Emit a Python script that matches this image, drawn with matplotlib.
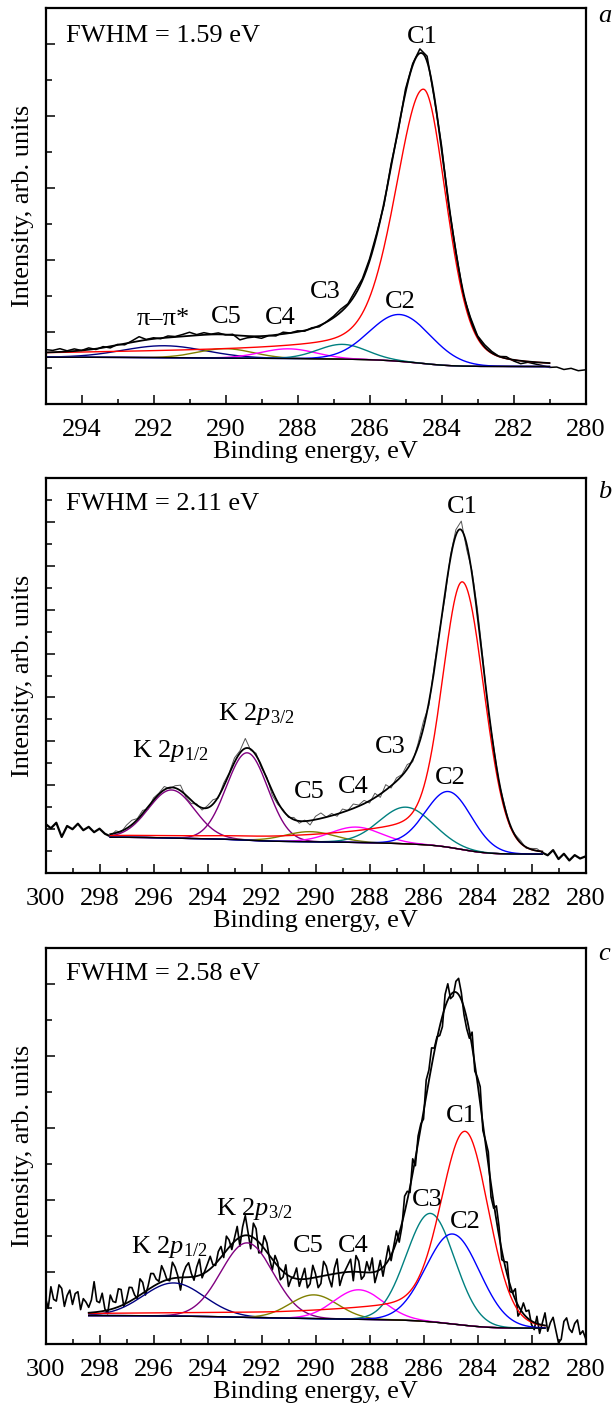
import numpy as np
import matplotlib
matplotlib.use('Agg')
import matplotlib.pyplot as plt
from matplotlib.ticker import MultipleLocator

plt.rcParams['font.family'] = ['Liberation Serif', 'DejaVu Serif']
plt.rcParams['mathtext.fontset'] = 'custom'
plt.rcParams['mathtext.rm'] = 'Liberation Serif'
plt.rcParams['mathtext.it'] = 'Liberation Serif:italic'
plt.rcParams['font.size'] = 19

# ── Panel a ───────────────────────────────────────────────────────
a_xlim = (295, 280)
a_ylim = (0, 11)
a_fit = (295.0, 281.0)              # fitted range, high BE -> low BE
a_base = (1.30, 1.04)               # Shirley levels at high / low BE end
a_names = ['π–π*', 'C5', 'C4', 'C3', 'C2']
a_centers = [291.7, 290.0, 288.25, 286.75, 285.15]
a_heights = [0.33, 0.26, 0.27, 0.41, 1.30]
a_fwhm = [2.7, 1.8, 1.8, 1.6, 2.0]
a_colors = ['#000080', '#808000', '#ff00ff', '#008080', '#0000ff']
# C1: centre, height, fwhm low-BE side, fwhm high-BE side, lorentz share, tail height, tail width
a_c1 = [284.5, 7.32, 1.5, 1.85, 0.3, 0.3, 8.0]
a_step = 0.2
a_resid = [0.08, 0.05, 0.09, 0.02, 0.06, 0.00, 0.05, -0.02, 0.03, -0.04,
           0.02, -0.03, 0.04, 0.12, 0.01, 0.03, -0.02, 0.04, 0.01, 0.05,
           0.10, 0.02, 0.06, 0.01, 0.04, -0.01, 0.02, -0.12, -0.05, -0.02,
           -0.06, 0.00, -0.03, 0.05, 0.00, 0.03, -0.02, 0.02, -0.03, 0.01,
           0.04, 0.08, 0.03, 0.10, 0.05, 0.06, 0.06, -0.05, 0.08, -0.06,
           0.10, 0.05, 0.12, 0.15, -0.05, 0.08, -0.06, 0.04, -0.08, 0.05,
           0.02, 0.06, 0.04, 0.00, 0.05, -0.03, -0.08, -0.02, -0.05, -0.08,
           -0.12, -0.10, -0.16, -0.12, -0.18, -0.15]
a_labels = [('FWHM = 1.59 eV', 294.43, 10.06, 'left'),
            ('C1', 284.53, 10.02, 'center'),
            ('C3', 287.22, 2.94, 'center'),
            ('C2', 285.15, 2.66, 'center'),
            ('π–π*', 291.74, 2.19, 'center'),
            ('C5', 289.99, 2.24, 'center'),
            ('C4', 288.47, 2.23, 'center')]

# ── Panel b ───────────────────────────────────────────────────────
b_xlim = (300, 280)
b_ylim = (0, 18)
b_fit = (297.6, 281.6)
b_base = (1.63, 0.86)
b_names = ['K2p1/2', 'K2p3/2', 'C5', 'C4', 'C3', 'C2']
b_centers = [295.33, 292.53, 290.2, 288.5, 286.65, 285.06]
b_heights = [2.19, 3.98, 0.46, 0.70, 1.67, 2.54]
b_fwhm = [2.0, 1.8, 2.2, 2.2, 2.3, 2.0]
b_colors = ['#800080', '#800080', '#808000', '#ff00ff', '#008080', '#0000ff']
b_c1 = [284.56, 11.1, 1.9, 1.7, 0.1, 1.1, 3.5]
b_step = 0.2
b_resid = [0.55, 0.35, 0.60, -0.05, 0.45, 0.30, 0.55, 0.25, 0.40, 0.15,
           0.30, 0.05, -0.10, 0.10, -0.05, 0.15, 0.20, 0.05, 0.15, -0.10,
           0.10, 0.05, 0.15, -0.05, 0.10, 0.25, -0.10, -0.15, 0.05, -0.10,
           0.10, 0.20, -0.05, 0.15, 0.05, 0.20, 0.10, 0.45, -0.05, 0.10,
           -0.10, 0.05, -0.20, -0.10, 0.05, -0.05, 0.10, -0.10, 0.05, -0.20,
           0.15, 0.25, 0.00, 0.10, -0.10, 0.15, 0.00, 0.20, 0.05, 0.15,
           -0.10, 0.20, -0.15, 0.25, -0.10, 0.15, 0.05, 0.20, -0.10, 0.15,
           0.30, -0.15, 0.20, 0.10, -0.20, 0.15, 0.25, 0.40, -0.25, 0.15,
           0.30, 0.20, -0.15, 0.10, -0.05, 0.10, -0.10, 0.05, 0.10, -0.05,
           0.05, 0.10, -0.05, -0.15, 0.10, -0.30, -0.05, -0.35, -0.10, -0.25,
           -0.15]
b_labels = [('FWHM = 2.11 eV', 299.24, 16.55, 'left'),
            ('C1', 284.57, 16.39, 'center'),
            (r'K 2$\mathit{p}_{1/2}$', 296.78, 5.27, 'left'),
            (r'K 2$\mathit{p}_{3/2}$', 293.62, 6.97, 'left'),
            ('C5', 290.23, 3.43, 'center'),
            ('C4', 288.59, 3.66, 'center'),
            ('C3', 287.22, 5.46, 'center'),
            ('C2', 285.01, 4.06, 'center')]

# ── Panel c ───────────────────────────────────────────────────────
c_xlim = (300, 280)
c_ylim = (0, 11)
c_fit = (298.4, 281.5)
c_base = (0.79, 0.44)
c_names = ['K2p1/2', 'K2p3/2', 'C5', 'C4', 'C3', 'C2']
c_centers = [295.25, 292.53, 290.06, 288.4, 285.74, 284.91]
c_heights = [0.92, 2.07, 0.66, 0.82, 3.01, 2.50]
c_fwhm = [2.65, 2.28, 2.1, 2.16, 2.1, 2.35]
c_colors = ['#000080', '#800080', '#808000', '#ff00ff', '#008080', '#0000ff']
c_c1 = [284.46, 4.89, 2.05, 2.05, 0.1, 0.5, 5.0]
c_step = 0.1
c_resid = [0.45, 0.15, 0.75, 0.40, 0.35, 0.80, 0.70, 0.20, 0.50, 0.65,
           0.25, 0.55, 0.60, 0.10, 0.40, 0.30, 0.15, 0.35, 0.85, 0.30,
           0.25, 0.50, 0.05, -0.10, 0.40, 0.20, 0.15, 0.50, 0.45, -0.05,
           0.10, 0.40, 0.35, 0.10, -0.05, 0.45, 0.30, -0.10, 0.10, 0.40,
           0.35, 0.15, 0.05, 0.45, 0.25, 0.00, -0.05, 0.45, 0.30, 0.05,
           -0.35, 0.10, 0.30, 0.40, 0.10, -0.10, 0.25, 0.45, -0.10, 0.05,
           0.20, 0.35, 0.05, -0.05, 0.25, 0.30, -0.10, 0.40, 0.20, -0.15,
           0.10, 0.35, -0.25, 0.25, 0.55, 0.10, -0.35, 0.40, 0.30, -0.30,
           -0.20, 0.35, 0.25, -0.10, -0.30, 0.20, 0.10, -0.30, -0.15, 0.25,
           -0.30, -0.05, 0.05, 0.30, -0.20, 0.05, 0.30, -0.25, -0.15, 0.35,
           0.10, -0.30, -0.20, 0.40, 0.25, -0.10, -0.35, 0.15, 0.40, -0.35,
           -0.10, 0.05, 0.20, 0.35, -0.25, 0.45, 0.30, -0.20, -0.10, 0.30,
           0.05, 0.40, -0.30, -0.05, 0.25, -0.25, 0.10, 0.40, -0.15, 0.10,
           0.30, -0.25, -0.10, 0.45, 0.25, -0.15, 0.40, -0.20, 0.20, 0.10,
           -0.20, 0.45, 0.30, 0.50, 0.10, 0.05, -0.25, -0.30, 0.35, 0.45,
           -0.10, -0.10, 0.30, 0.45, 0.20, -0.20, -0.30, -0.20, 0.40, -0.20,
           0.15, 0.45, -0.20, 0.10, 0.35, -0.35, -0.15, 0.40, 0.25, -0.25,
           0.05, 0.35, -0.20, 0.00, 0.30, -0.30, -0.05, 0.30, 0.15, 0.25,
           -0.10, -0.20, 0.20, -0.25, 0.05, 0.35, -0.15, 0.10, 0.25, -0.10,
           -0.45, -0.35, 0.15, 0.25, -0.05, -0.15, 0.10, 0.20, -0.20, -0.10,
           -0.30]
c_labels = [('FWHM = 2.58 eV', 299.24, 10.11, 'left'),
            ('C1', 284.59, 6.18, 'center'),
            (r'K 2$\mathit{p}_{1/2}$', 296.83, 2.54, 'left'),
            (r'K 2$\mathit{p}_{3/2}$', 293.70, 3.58, 'left'),
            ('C5', 290.25, 2.56, 'center'),
            ('C4', 288.59, 2.56, 'center'),
            ('C3', 285.85, 3.83, 'center'),
            ('C2', 284.44, 3.21, 'center')]

LN2 = 4 * np.log(2)


def gauss(E, c, h, f):
    return h * np.exp(-LN2 * ((E - c) / f) ** 2)


def c1_peak(E, c, h, f_lo, f_hi, eta, t, w):
    # asymmetric pseudo-Voigt with a slow tail towards high binding energy
    d = E - c
    f = np.where(d > 0, f_hi, f_lo)
    g = np.exp(-LN2 * (d / f) ** 2)
    lor = 1 / (1 + 4 * (d / f) ** 2)
    tail = np.where(d > 0, t / (1 + (d / w) ** 2), t * np.exp(-LN2 * (d / f_lo) ** 2))
    return h * ((1 - eta) * g + eta * lor) + tail


def draw_panel(ax, xlim, ylim, fit, base, centers, heights, fwhm, colors, c1,
               step, resid, labels, letter, letter_y, split_data=False, data_lw=1.1):
    E = np.linspace(280, 300, 4001)
    comps = [gauss(E, c, h, f) for c, h, f in zip(centers, heights, fwhm)]
    main = c1_peak(E, *c1)
    total = main + np.sum(comps, axis=0)

    # Shirley-type background over the fitted range
    inside = (E <= fit[0]) & (E >= fit[1])
    cum = np.cumsum(np.where(inside, total, 0))
    bg = base[1] + (base[0] - base[1]) * cum / cum[-1]
    env = bg + total

    # measured spectrum
    Ed = np.round(np.linspace(xlim[0], xlim[1], len(resid)), 2)
    yd = np.interp(Ed, E, env) + np.array(resid)
    if split_data:
        m_in = (Ed <= fit[0] + 0.01) & (Ed >= fit[1] - 0.01)
        ax.plot(Ed[m_in], yd[m_in], color='#555555', lw=0.7, zorder=1)
        lo = Ed >= fit[0] - 0.01
        hi = Ed <= fit[1] + 0.01
        ax.plot(Ed[lo], yd[lo], color='black', lw=1.6, zorder=1)
        ax.plot(Ed[hi], yd[hi], color='black', lw=1.6, zorder=1)
    else:
        ax.plot(Ed, yd, color='black', lw=data_lw, zorder=1)

    Ef = E[inside]
    for comp, col in zip(comps, colors):
        ax.plot(Ef, (bg + comp)[inside], color=col, lw=1.0, zorder=2)
    ax.plot(Ef, (bg + main)[inside], color='#ff0000', lw=1.0, zorder=2)
    ax.plot(Ef, bg[inside], color='black', lw=1.0, zorder=3)
    ax.plot(Ef, env[inside], color='black', lw=1.3, zorder=3)

    ax.set_xlim(*xlim)
    ax.set_ylim(*ylim)
    ax.xaxis.set_major_locator(MultipleLocator(2))
    ax.xaxis.set_minor_locator(MultipleLocator(1))
    ax.yaxis.set_major_locator(MultipleLocator(2))
    ax.yaxis.set_minor_locator(MultipleLocator(1))
    ax.tick_params(axis='x', which='major', direction='in', length=6.5, width=1.1, pad=10.5)
    ax.tick_params(axis='x', which='minor', direction='in', length=3.5, width=1.1)
    ax.tick_params(axis='y', which='major', direction='in', length=6.5, width=1.1, labelleft=False)
    ax.tick_params(axis='y', which='minor', direction='in', length=4.3, width=1.1)
    for s in ax.spines.values():
        s.set_linewidth(1.6)

    ax.set_xlabel('Binding energy, eV')
    ax.set_ylabel('Intensity, arb. units')
    ax.xaxis.set_label_coords(0.5, -0.093)
    ax.yaxis.set_label_coords(-0.022, 0.5)

    for txt, x, y, ha in labels:
        ax.text(x, y, txt, ha=ha, va='baseline', zorder=4)
    ax.text(1.023, letter_y, letter, transform=ax.transAxes, style='italic',
            ha='left', va='baseline')


fig = plt.figure(figsize=(6.16, 14.07), dpi=100)
W = 540 / 616
ax_a = fig.add_axes([45.5 / 616, 1 - 404 / 1407, W, 396 / 1407])
ax_b = fig.add_axes([45.5 / 616, 1 - 873 / 1407, W, 395 / 1407])
ax_c = fig.add_axes([45.5 / 616, 1 - 1344 / 1407, W, 396 / 1407])

draw_panel(ax_a, a_xlim, a_ylim, a_fit, a_base, a_centers, a_heights, a_fwhm,
           a_colors, a_c1, a_step, a_resid, a_labels, 'a', 0.965)
draw_panel(ax_b, b_xlim, b_ylim, b_fit, b_base, b_centers, b_heights, b_fwhm,
           b_colors, b_c1, b_step, b_resid, b_labels, 'b', 0.949, split_data=True)
draw_panel(ax_c, c_xlim, c_ylim, c_fit, c_base, c_centers, c_heights, c_fwhm,
           c_colors, c_c1, c_step, c_resid, c_labels, 'c', 0.970, data_lw=1.2)

fig.savefig('out.png', dpi=100)
